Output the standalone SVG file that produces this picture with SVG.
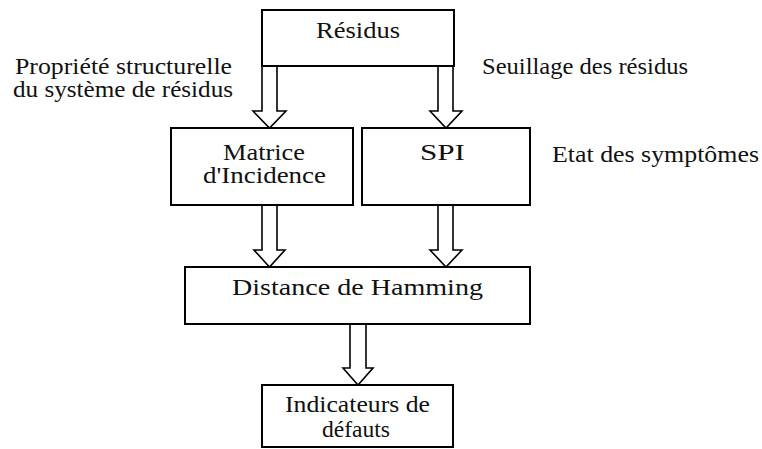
<svg xmlns="http://www.w3.org/2000/svg" width="762" height="449" viewBox="0 0 762 449">
  <style>
    .box { fill: #ffffff; stroke: #000000; stroke-width: 2; }
    .arrow { fill: #ffffff; stroke: #000000; stroke-width: 1.6; stroke-linejoin: miter; }
    .lbl { font-family: 'Liberation Serif', 'Times New Roman', serif; font-size: 23px; fill: #111111; }
  </style>
  <rect width="762" height="449" fill="#ffffff"/>

  <!-- side annotations -->
  <g id="annotations" class="lbl">
    <text x="15" y="74" textLength="217" lengthAdjust="spacingAndGlyphs">Propriété structurelle</text>
    <text x="13" y="97" textLength="220" lengthAdjust="spacingAndGlyphs">du système de résidus</text>
    <text x="482" y="74" textLength="206" lengthAdjust="spacingAndGlyphs">Seuillage des résidus</text>
    <text x="552" y="162" textLength="207" lengthAdjust="spacingAndGlyphs">Etat des symptômes</text>
  </g>

  <!-- hollow block arrows -->
  <g id="connectors">
    <path class="arrow" d="M262,66 V111 H253 L269.5,128 L286,111 H277 V66 Z"/>
    <path class="arrow" d="M438,66 V111 H430 L446,128 L462,111 H453 V66 Z"/>
    <path class="arrow" d="M262,205 V250 H254 L269.5,267 L285,250 H277 V205 Z"/>
    <path class="arrow" d="M438,205 V250 H430 L446,267 L462,250 H453 V205 Z"/>
    <path class="arrow" d="M350,324 V368 H343 L358,385 L373,368 H366 V324 Z"/>
  </g>

  <g id="residus" class="lbl">
    <rect class="box" x="262" y="10" width="192" height="56"/>
    <text x="316" y="38" textLength="84" lengthAdjust="spacingAndGlyphs">Résidus</text>
  </g>

  <g id="matrice" class="lbl">
    <rect class="box" x="171" y="128" width="182" height="77"/>
    <text x="223" y="160" textLength="82" lengthAdjust="spacingAndGlyphs">Matrice</text>
    <text x="203" y="183" textLength="123" lengthAdjust="spacingAndGlyphs">d'Incidence</text>
  </g>

  <g id="spi" class="lbl">
    <rect class="box" x="362" y="128" width="168" height="77"/>
    <text x="420" y="160" textLength="45" lengthAdjust="spacingAndGlyphs">SPI</text>
  </g>

  <g id="hamming" class="lbl">
    <rect class="box" x="185" y="267" width="345" height="57"/>
    <text x="232" y="295" textLength="251" lengthAdjust="spacingAndGlyphs">Distance de Hamming</text>
  </g>

  <g id="indicateurs" class="lbl">
    <rect class="box" x="262" y="385" width="191" height="62"/>
    <text x="285" y="412" textLength="145" lengthAdjust="spacingAndGlyphs">Indicateurs de</text>
    <text x="322" y="437" textLength="68" lengthAdjust="spacingAndGlyphs">défauts</text>
  </g>
</svg>
